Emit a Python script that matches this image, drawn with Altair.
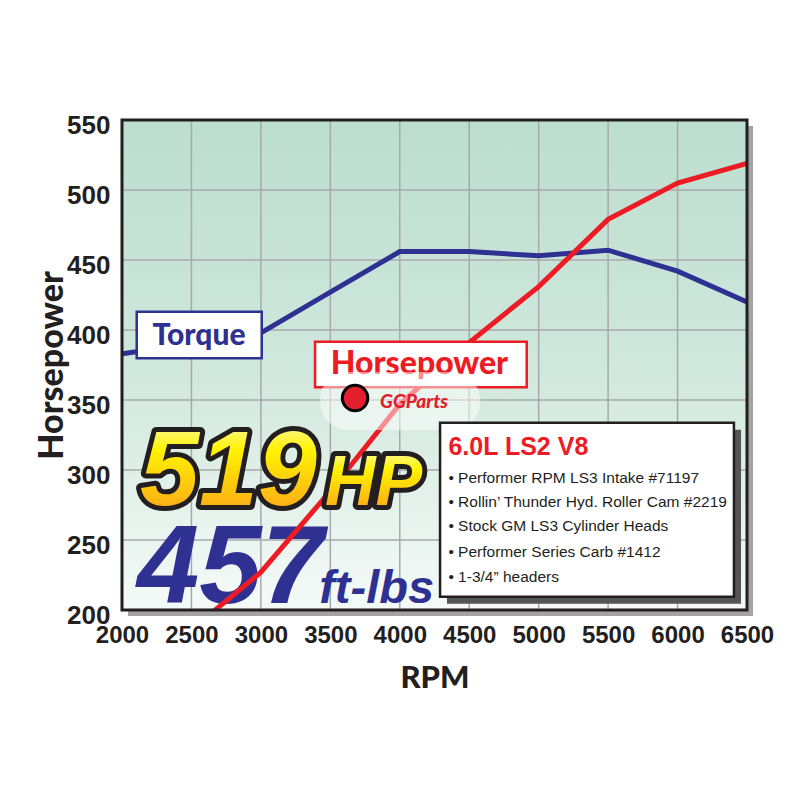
import altair as alt
import pandas as pd

# ---------------- data ----------------
rpm = [2000, 2500, 3000, 3500, 4000, 4500, 5000, 5500, 6000, 6500]
torque = [383, 390, 398, 427, 456, 456, 453, 457, 442, 420]
hp_rpm = [2500, 3000, 3500, 4000, 4500, 5000, 5500, 6000, 6500]
horsepower = [186, 227, 285, 347, 391, 431, 479, 505, 519]
x_ticks = [2000, 2500, 3000, 3500, 4000, 4500, 5000, 5500, 6000, 6500]
y_ticks = [200, 250, 300, 350, 400, 450, 500, 550]

spec_title = "6.0L LS2 V8"
spec_lines = [
    "\u2022 Performer RPM LS3 Intake #71197",
    "\u2022 Rollin\u2019 Thunder Hyd. Roller Cam #2219",
    "\u2022 Stock GM LS3 Cylinder Heads",
    "\u2022 Performer Series Carb #1412",
    "\u2022 1-3/4\u201d headers",
]
spec_line_y = [290.9, 273.8, 256.6, 238.1, 220.2]

# annotation anchors in data units (rpm, value)
torque_box = [2106, 3006, 379.8, 413.1]
torque_label = [2554, 389.3]
hp_box = [3390, 4914, 359.1, 391.6]
hp_label = [4142, 368.6]
spec_box = [4290, 6406, 209.5, 333.8]
spec_shadow = [4340, 6457, 204.5, 328.8]
spec_text_x = 4350
spec_title_y = 310.7
big_hp = ["519", 2130, 275]
big_hp_unit = ["HP", 3462, 275]
big_tq = ["457", 2108, 205]
big_tq_unit = ["ft-lbs", 3420, 205]
wm_box = [3426, 4578, 328.6, 370]
wm_logo = [3678, 351.4]
wm_text = ["GGParts", 3858, 344.5]

W, H = 625, 490
XS = alt.Scale(domain=[2000, 6500], nice=False, zero=False)
YS = alt.Scale(domain=[200, 550], nice=False, zero=False)

SANS = "'Liberation Sans', Arial, sans-serif"
HEAVY = "Lato, 'DejaVu Sans', sans-serif"
DARK = "#231f20"
BLUE = "#2e3192"
RED = "#ed1c24"

AX = alt.Axis(
    values=x_ticks, grid=False, ticks=False, domain=False, format="d",
    labelFont=SANS, labelFontWeight="bold", labelFontSize=24, labelColor=DARK,
    labelPadding=13, labelFlush=False, labelOverlap=False,
    title="RPM", titleFont=HEAVY, titleFontWeight=900, titleFontSize=31,
    titleColor=DARK, titleX=W / 2, titleY=77, titleAlign="center",
    titleBaseline="alphabetic")
AY = alt.Axis(
    values=y_ticks, grid=False, ticks=False, domain=False, format="d",
    labelFont=SANS, labelFontWeight="bold", labelFontSize=26, labelColor=DARK,
    labelPadding=12, labelFlush=False, labelOverlap=False,
    labelBaseline="middle", labelOffset=5,
    title="Horsepower", titleFont=HEAVY, titleFontWeight=900, titleFontSize=34,
    titleColor=DARK, titleAngle=270, titleX=-60, titleY=H / 2,
    titleAlign="center", titleBaseline="alphabetic")

one = pd.DataFrame({"a": [0]})


def xq(field="x"):
    return alt.X(f"{field}:Q", scale=XS, axis=AX)


def yq(field="y"):
    return alt.Y(f"{field}:Q", scale=YS, axis=AY)


# shadow + gradient background
shadow = alt.Chart(one).mark_rect(color="#a3a3a3").encode(
    x=alt.value(6), x2=alt.value(W + 6), y=alt.value(6), y2=alt.value(H + 6))
bg = alt.Chart(one).mark_rect(
    color=alt.LinearGradient(
        gradient="linear",
        stops=[alt.GradientStop(color="#bcdecf", offset=0),
               alt.GradientStop(color="#cfe7dc", offset=0.5),
               alt.GradientStop(color="#f5faf8", offset=1)],
        x1=0, x2=0, y1=0, y2=1)
).encode(x=alt.value(0), x2=alt.value(W), y=alt.value(0), y2=alt.value(H))

grid_x = alt.Chart(pd.DataFrame({"x": x_ticks})).mark_rule(
    color="#a7a9ac", strokeWidth=1.5).encode(x=xq())
grid_y = alt.Chart(pd.DataFrame({"y": y_ticks})).mark_rule(
    color="#a7a9ac", strokeWidth=1.5).encode(y=yq())

tq_df = pd.DataFrame({"x": rpm, "y": torque})
hp_df = pd.DataFrame({"x": hp_rpm, "y": horsepower})

torque_line = alt.Chart(tq_df).mark_line(color=BLUE, strokeWidth=5, clip=True).encode(
    x=xq(), y=yq())
hp_line = alt.Chart(hp_df).mark_line(color=RED, strokeWidth=5, clip=True).encode(
    x=xq(), y=yq())


def box(b, stroke, sw=2.5, fill="white"):
    df = pd.DataFrame({"x": [b[0]], "x2": [b[1]], "y": [b[2]], "y2": [b[3]]})
    return alt.Chart(df).mark_rect(fill=fill, stroke=stroke, strokeWidth=sw).encode(
        x=xq(), x2="x2:Q", y=yq(), y2="y2:Q")


def label(txt, x, y, **kw):
    df = pd.DataFrame({"x": [x], "y": [y], "t": [txt]})
    return alt.Chart(df).mark_text(**kw).encode(x=xq(), y=yq(), text="t:N")


tq_box = box(torque_box, BLUE)
tq_lab = label("Torque", torque_label[0], torque_label[1], align="center",
               baseline="alphabetic", font=HEAVY, fontWeight=900, fontSize=30, fill=BLUE)
hpbox = box(hp_box, RED)
hp_lab = label("Horsepower", hp_label[0], hp_label[1], align="center",
               baseline="alphabetic", font=HEAVY, fontWeight=900, fontSize=32, fill=RED)

# watermark
wm_df = pd.DataFrame({"x": [wm_box[0]], "x2": [wm_box[1]], "y": [wm_box[2]], "y2": [wm_box[3]]})
wm = alt.Chart(wm_df).mark_rect(fill="white", opacity=0.5, cornerRadius=28).encode(
    x=xq(), x2="x2:Q", y=yq(), y2="y2:Q")
logo = alt.Chart(pd.DataFrame({"x": [wm_logo[0]], "y": [wm_logo[1]]})).mark_point(
    shape="circle", filled=True, size=650, fill="#e31e2d", stroke="black",
    strokeWidth=3, opacity=1).encode(x=xq(), y=yq())
wm_lab = label(wm_text[0], wm_text[1], wm_text[2], align="left", baseline="alphabetic",
               font=HEAVY, fontWeight=900, fontStyle="italic", fontSize=19, fill="#e31e2d")

# spec box
sp_shadow = box(spec_shadow, "#555555", sw=0, fill="#555555")
sp_box = box(spec_box, DARK, sw=2.5)
sp_title = label(spec_title, spec_text_x, spec_title_y, align="left",
                 baseline="alphabetic", font=SANS, fontWeight="bold", fontSize=25, fill=RED)
sp_df = pd.DataFrame({"x": [spec_text_x] * len(spec_lines), "y": spec_line_y,
                      "t": spec_lines})
sp_lines = alt.Chart(sp_df).mark_text(align="left", baseline="alphabetic", font=SANS,
                                      fontSize=15.5, fill=DARK).encode(
    x=xq(), y=yq(), text="t:N")

# big numbers
gold = alt.LinearGradient(
    gradient="linear",
    stops=[alt.GradientStop(color="#fffde8", offset=0),
           alt.GradientStop(color="#fff200", offset=0.35),
           alt.GradientStop(color="#fdbb12", offset=0.75),
           alt.GradientStop(color="#f7941d", offset=1)],
    x1=0, x2=0, y1=0, y2=1)


def big(item, size, outline, fill):
    common = dict(align="left", baseline="alphabetic", font=SANS, fontWeight="bold",
                  fontStyle="italic", fontSize=size)
    layers = []
    if outline:
        layers.append(label(item[0], item[1], item[2], fill=DARK, stroke=DARK,
                            strokeWidth=10, strokeJoin="round", **common))
    layers.append(label(item[0], item[1], item[2], fill=fill, **common))
    return layers


hp_big = big(big_hp, 106, True, gold) + big(big_hp_unit, 70, True, gold)
tq_big = big(big_tq, 112, False, BLUE) + big(big_tq_unit, 47, False, BLUE)

border = alt.Chart(one).mark_rect(fillOpacity=0, stroke=DARK, strokeWidth=3).encode(
    x=alt.value(0), x2=alt.value(W), y=alt.value(0), y2=alt.value(H))

chart = alt.layer(
    shadow, bg, grid_x, grid_y, torque_line, *tq_big, hp_line, *hp_big,
    tq_box, tq_lab, hpbox, hp_lab, wm, logo, wm_lab,
    sp_shadow, sp_box, sp_title, sp_lines, border,
).properties(
    width=W, height=H,
    autosize=alt.AutoSizeParams(type="none"),
    padding={"left": 114, "top": 112, "right": 45, "bottom": 182},
    background="white",
).configure_view(strokeWidth=0)

chart.save("out.html", embed_options={"renderer": "svg", "actions": False})
